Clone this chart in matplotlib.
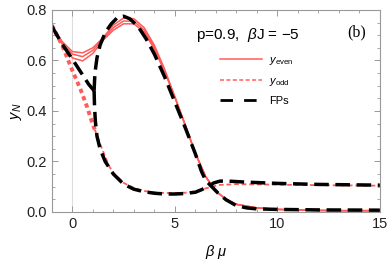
import matplotlib
matplotlib.use("Agg")
import matplotlib.pyplot as plt
from matplotlib.ticker import MultipleLocator, FormatStrFormatter
from matplotlib.lines import Line2D

plt.rcParams["font.family"] = ["Liberation Sans", "DejaVu Sans"]
plt.rcParams["font.serif"] = ["Liberation Serif", "DejaVu Serif"]
plt.rcParams["mathtext.fontset"] = "custom"
plt.rcParams["mathtext.rm"] = "Liberation Sans"
plt.rcParams["mathtext.it"] = "Liberation Sans:italic"

RED = "#ff5b5b"

# y_even for three even N (solid)
x_even = [-1, -0.5, 0, 0.5, 1, 1.5, 2, 2.5, 3, 3.5, 4, 4.5, 5, 5.5, 6, 6.5,
          7, 7.5, 8, 9, 10, 11, 12, 13, 14, 15]
tail = [0.455, 0.345, 0.232, 0.14, 0.082, 0.05, 0.03, 0.016, 0.01, 0.008,
        0.006, 0.005, 0.005, 0.005]
y_even_1 = [0.735, 0.675, 0.635, 0.63, 0.65, 0.69, 0.74, 0.768, 0.765, 0.73,
            0.66, 0.565] + tail
y_even_2 = [0.735, 0.67, 0.625, 0.615, 0.64, 0.685, 0.73, 0.756, 0.755, 0.72,
            0.652, 0.56] + tail
y_even_3 = [0.735, 0.665, 0.61, 0.598, 0.628, 0.68, 0.72, 0.745, 0.745, 0.712,
            0.645, 0.555] + tail

# y_odd: overlapping part (thick dots) and the rest (dashed)
x_odd_a = [-1, -0.5, -0.2, 0, 0.4, 0.7, 1.0, 1.1]
y_odd_a = [0.74, 0.66, 0.6, 0.56, 0.485, 0.42, 0.345, 0.325]
x_odd_b = [1.1, 1.3, 1.5, 1.8, 2.0, 2.5, 3.0, 3.5, 4, 4.5, 5, 5.5, 6, 6.5,
           6.8, 7.2, 8, 9, 10, 12, 15]
y_odd_b = [0.325, 0.28, 0.24, 0.18, 0.155, 0.115, 0.095, 0.083, 0.077, 0.075,
           0.075, 0.076, 0.082, 0.093, 0.1, 0.107, 0.11, 0.109, 0.108, 0.106,
           0.104]

# fixed points (black dashed)
x_fp_left = [-1, -0.5, 0, 0.4, 0.8, 1.06]
y_fp_left = [0.735, 0.665, 0.605, 0.555, 0.505, 0.48]
x_fp_up = [1.06, 1.1, 1.2, 1.35, 1.6, 1.9, 2.2, 2.5, 2.8, 3.2, 3.6, 4.0, 4.5,
           5.0, 5.5, 6.0, 6.3, 6.5, 6.8, 7.1, 7.5, 8.0, 8.5, 9, 10, 12, 15]
y_fp_up = [0.48, 0.55, 0.61, 0.66, 0.71, 0.745, 0.77, 0.775, 0.765, 0.735,
           0.685, 0.625, 0.535, 0.435, 0.335, 0.23, 0.16, 0.125, 0.1, 0.075,
           0.048, 0.025, 0.016, 0.012, 0.01, 0.008, 0.007]
x_fp_low = [1.06, 1.08, 1.12, 1.2, 1.35, 1.6, 2.0, 2.5, 3.0, 3.5, 4.0, 4.5,
            5.0, 5.5, 6.0, 6.3, 6.6, 6.9, 7.2, 7.6, 8.5, 10, 12, 15]
y_fp_low = [0.48, 0.42, 0.36, 0.3, 0.25, 0.2, 0.15, 0.11, 0.09, 0.08, 0.074,
            0.071, 0.071, 0.073, 0.078, 0.088, 0.1, 0.115, 0.122, 0.122, 0.118,
            0.113, 0.109, 0.106]

fig = plt.figure(figsize=(3.9, 2.61), dpi=100)
ax = fig.add_axes([0.133, 0.188, 0.841, 0.774])

ax.axvline(0, color="#dddddd", lw=0.8, zorder=0)

for y in (y_even_1, y_even_2, y_even_3):
    ax.plot(x_even, y, color=RED, lw=1.1)
ax.plot(x_odd_a, y_odd_a, color=RED, lw=2.8, dashes=(1.1, 0.9))
ax.plot(x_odd_b, y_odd_b, color=RED, lw=1.3, dashes=(2.6, 1.6))

fp_style = dict(color="black", lw=2.5, dashes=(4.2, 1.9))
ax.plot(x_fp_left, y_fp_left, **fp_style)
ax.plot(x_fp_up, y_fp_up, **fp_style)
ax.plot(x_fp_low, y_fp_low, **fp_style)

ax.set_xlim(-1, 15)
ax.set_ylim(0, 0.8)
ax.xaxis.set_major_locator(MultipleLocator(5))
ax.xaxis.set_minor_locator(MultipleLocator(1))
ax.yaxis.set_major_locator(MultipleLocator(0.2))
ax.yaxis.set_minor_locator(MultipleLocator(0.05))
ax.yaxis.set_major_formatter(FormatStrFormatter("%.1f"))
ax.tick_params(which="both", direction="in", top=True, right=True,
               color="#999999", labelsize=10.5, labelcolor="#222222")
ax.tick_params(which="major", length=4, width=0.7)
ax.tick_params(which="minor", length=2.2, width=0.6)
for s in ax.spines.values():
    s.set_color("#999999")
    s.set_linewidth(0.8)

ax.set_xlabel(r"$\beta\ \mu$", fontsize=10.5, labelpad=9)
ax.set_ylabel(r"$y_N$", fontsize=10.5, labelpad=2)

ax.text(0.44, 0.875, r"p=0.9,  $\beta$J = $-$5", transform=ax.transAxes,
        fontsize=11, va="center", ha="left")
ax.text(0.93, 0.89, "(b)", transform=ax.transAxes, fontsize=11.5,
        family="serif", va="center", ha="center")

handles = [
    Line2D([], [], color=RED, lw=1.1),
    Line2D([], [], color=RED, lw=1.1, dashes=(2.6, 1.6)),
    Line2D([], [], color="black", lw=2.0, dashes=(4.5, 4)),
]
labels = [r"$y_{\mathrm{even}}$", r"$y_{\mathrm{odd}}$", "FPs"]
ax.legend(handles, labels, loc="upper left", bbox_to_anchor=(0.512, 0.775),
          frameon=False, fontsize=8, handlelength=3.8, handletextpad=0.6,
          labelspacing=0.75, borderpad=0, borderaxespad=0)

fig.savefig("out.png", dpi=100)
